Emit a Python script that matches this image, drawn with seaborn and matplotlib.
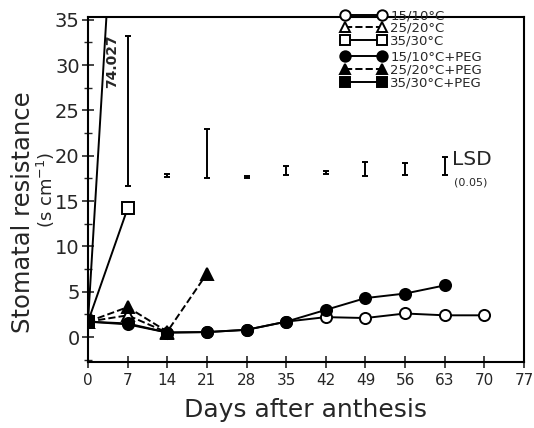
import matplotlib
matplotlib.use("Agg")
import matplotlib.pyplot as plt
from matplotlib.lines import Line2D
from matplotlib.ticker import MultipleLocator
import seaborn as sns
import pandas as pd

sns.set_theme(style="white")
plt.rcParams['font.family'] = ['DejaVu Sans']

# ---- data ----
days_c = [0, 7, 14, 21, 28, 35, 42, 49, 56, 63, 70]
r_15_10 = [1.7, 1.4, 0.5, 0.55, 0.8, 1.7, 2.2, 2.1, 2.6, 2.4, 2.4]
days_t = [0, 7, 14]
r_25_20 = [1.7, 2.4, 0.5]
days_s = [0, 7]
r_35_30 = [1.7, 14.2]
days_cp = [0, 7, 14, 21, 28, 35, 42, 49, 56, 63]
r_15_10_peg = [1.7, 1.5, 0.5, 0.55, 0.8, 1.7, 3.0, 4.3, 4.8, 5.7]
days_tp = [0, 7, 14, 21]
r_25_20_peg = [1.7, 3.3, 0.6, 7.0]
days_sp = [0, 7]
r_35_30_peg = [1.7, 74.027]

lsd_days = [7, 14, 21, 28, 35, 42, 49, 56, 63]
lsd_base = [16.7, 17.7, 17.5, 17.6, 17.9, 18.0, 17.8, 17.9, 17.9]
lsd_len = [16.5, 0.3, 5.4, 0.2, 1.0, 0.3, 1.5, 1.3, 2.0]

labels = ["15/10°C", "25/20°C", "35/30°C",
          "15/10°C+PEG", "25/20°C+PEG", "35/30°C+PEG"]

series = [
    (days_c, r_15_10, 'o', 'white', '-'),
    (days_t, r_25_20, '^', 'white', '--'),
    (days_s, r_35_30, 's', 'white', '-'),
    (days_cp, r_15_10_peg, 'o', 'black', '-'),
    (days_tp, r_25_20_peg, '^', 'black', '--'),
    (days_sp, r_35_30_peg, 's', 'black', '-'),
]

fig = plt.figure(figsize=(5.34, 4.28), dpi=100)
ax = fig.add_axes([0.1648, 0.1542, 0.8165, 0.806])

handles = []
for (x, y, m, fc, ls), lab in zip(series, labels):
    df = pd.DataFrame({"day": x, "r": y})
    sns.lineplot(data=df, x="day", y="r", ax=ax, color="black", linewidth=1.4,
                 linestyle=ls, marker=m, markersize=8, markerfacecolor=fc,
                 markeredgecolor="black", markeredgewidth=1.4, clip_on=True)
    handles.append(Line2D([0], [0], color="black", lw=1.4, linestyle=ls,
                          marker=m, markersize=7.5, markerfacecolor=fc,
                          markeredgecolor="black", markeredgewidth=1.4))

# LSD bars
centers = [b + l / 2 for b, l in zip(lsd_base, lsd_len)]
half = [l / 2 for l in lsd_len]
ax.errorbar(lsd_days, centers, yerr=half, fmt='none', ecolor='black',
            elinewidth=1.4, capsize=2.5, capthick=1.4)

ax.text(4.2, 30.4, "74.027", rotation=90, ha='center', va='center',
        fontsize=10, fontweight='bold')
ax.text(64.3, 19.6, "LSD", fontsize=14.5, ha='left', va='center')
ax.text(64.6, 17.0, "(0.05)", fontsize=8, ha='left', va='center')

ax.set_xlim(0, 77)
ax.set_ylim(-2.75, 35.3)
ax.set_xticks(range(0, 78, 7))
ax.set_yticks(range(0, 36, 5))
ax.yaxis.set_minor_locator(MultipleLocator(2.5))
ax.tick_params(axis='x', direction='inout', length=8, width=1.2, labelsize=11,
               bottom=True, pad=4)
ax.tick_params(axis='y', which='major', direction='inout', length=8, width=1.2,
               labelsize=14, left=True, pad=2)
ax.tick_params(axis='y', which='minor', direction='inout', length=6, width=1.0,
               left=True)
ax.set_xlabel("")
ax.set_ylabel("")
for s in ax.spines.values():
    s.set_color('black')
    s.set_linewidth(1.5)

fig.text(0.572, 0.026, "Days after anthesis", fontsize=18, ha='center',
         va='baseline')
fig.text(0.043, 0.505, "Stomatal resistance", fontsize=17.5, rotation=90,
         ha='center', va='center')
fig.text(0.086, 0.556, "(s cm$^{-1}$)", fontsize=13, rotation=90,
         ha='center', va='center')

leg_kw = dict(loc='upper left', frameon=False, fontsize=9.5,
              handlelength=3.4, handletextpad=0.3, labelspacing=-0.02,
              borderpad=0, numpoints=2)
leg1 = fig.legend(handles[:3], labels[:3], bbox_to_anchor=(0.627, 0.994),
                  **leg_kw)
leg2 = fig.legend(handles[3:], labels[3:], bbox_to_anchor=(0.627, 0.897),
                  **leg_kw)

fig.savefig("out.png", dpi=100)
